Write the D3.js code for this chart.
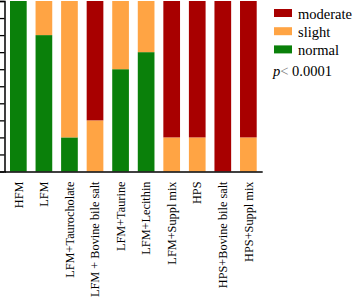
<!DOCTYPE html>
<html>
<head>
<meta charset="utf-8">
<script src="https://cdn.jsdelivr.net/npm/d3@7"></script>
<style>
  body { margin: 0; background: #fff; }
  svg text { font-family: "Liberation Serif", "Times New Roman", Times, serif; }
</style>
</head>
<body>
<svg id="chart"></svg>
<script>
// groups on the x axis
var groups = ["HFM", "LFM", "LFM+Taurocholate", "LFM + Bovine bile salt", "LFM+Taurine",
  "LFM+Lecithin", "LFM+Suppl mix", "HPS", "HPS+Bovine bile salt", "HPS+Suppl mix"];

// percentage of each score per group
var normal   = [100, 80, 20,  0, 60, 70,  0,  0,   0,  0];
var slight   = [  0, 20, 80, 30, 40, 30, 20, 20,   0, 20];
var moderate = [  0,  0,  0, 70,  0,  0, 80, 80, 100, 80];

var yTicks = [0, 10, 20, 30, 40, 50, 60, 70, 80, 90, 100];
var keys = ["normal", "slight", "moderate"];
var legendKeys = ["moderate", "slight", "normal"];
var pText = "0.0001";

var serif = "'Liberation Serif', 'Times New Roman', serif";
var width = 358, height = 300;

var svg = d3.select("#chart")
  .attr("width", width)
  .attr("height", height);

var data = groups.map(function(g, i) {
  return {group: g, normal: normal[i], slight: slight[i], moderate: moderate[i]};
});

var color = d3.scaleOrdinal()
  .domain(keys)
  .range(["#0a800a", "#ffa444", "#a80000"]);

// X scale
var x = d3.scaleBand()
  .domain(groups)
  .range([4.5, 262.2])
  .paddingInner(0.347)
  .paddingOuter(0.215);

// Y scale
var y = d3.scaleLinear()
  .domain([0, 100])
  .range([171.5, 1]);

var stacked = d3.stack().keys(keys)(data);

// Bars
svg.append("g")
  .selectAll("g")
  .data(stacked)
  .enter()
  .append("g")
    .attr("fill", function(d) { return color(d.key); })
  .selectAll("rect")
  .data(function(d) { return d; })
  .enter()
  .append("rect")
    .attr("x", function(d) { return x(d.data.group); })
    .attr("y", function(d) { return y(d[1]); })
    .attr("width", x.bandwidth())
    .attr("height", function(d) { return y(d[0]) - y(d[1]); });

// Y axis, labels fall outside the picture
svg.append("g")
  .attr("transform", "translate(4.5,0)")
  .call(d3.axisLeft(y).tickValues(yTicks).tickSize(4.5).tickFormat(""))
  .call(function(g) {
    g.select(".domain").attr("stroke-width", 1.5);
    g.selectAll(".tick line").attr("stroke-width", 1.3);
  });

// X axis line, no ticks
svg.append("g")
  .attr("transform", "translate(0," + y(0) + ")")
  .call(d3.axisBottom(x).tickSize(0).tickSizeOuter(0).tickFormat(""))
  .select(".domain").attr("stroke-width", 1.5);

// X labels, rotated
svg.append("g")
  .selectAll("text")
  .data(groups)
  .enter()
  .append("text")
    .attr("transform", function(d) {
      return "translate(" + (x(d) + x.bandwidth() / 2) + ",181.5)rotate(-90)";
    })
    .attr("text-anchor", "end")
    .attr("dy", "0.34em")
    .style("font-family", serif)
    .style("font-size", "12.3px")
    .text(function(d) { return d; });

// Legend
var legend = svg.append("g")
  .selectAll("g")
  .data(legendKeys)
  .enter()
  .append("g")
    .attr("transform", function(d, i) { return "translate(274," + (9 + i * 18.2) + ")"; });

legend.append("rect")
  .attr("width", 18)
  .attr("height", 8)
  .attr("fill", function(d) { return color(d); });

legend.append("text")
  .attr("x", 24)
  .attr("y", 9.5)
  .style("font-family", serif)
  .style("font-size", "14.5px")
  .text(function(d) { return d; });

var p = svg.append("text")
  .attr("x", 273)
  .attr("y", 76)
  .style("font-family", serif)
  .style("font-size", "14.5px");
p.append("tspan").style("font-style", "italic").text("p");
p.append("tspan").attr("fill", "#777").text("<");
p.append("tspan").text(" " + pText);
</script>
</body>
</html>
